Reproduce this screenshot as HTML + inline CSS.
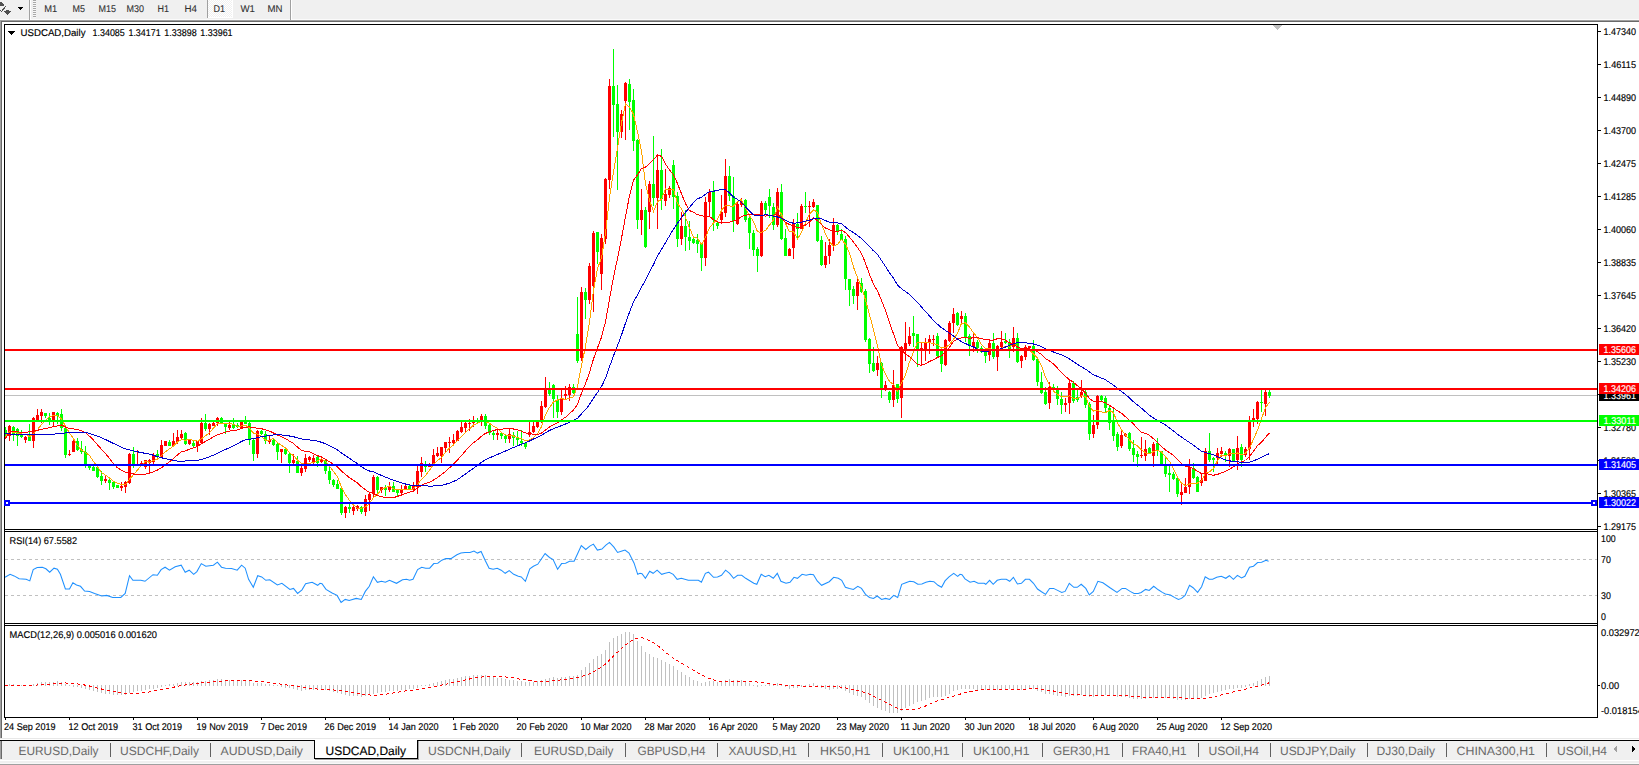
<!DOCTYPE html>
<html><head><meta charset="utf-8"><title>USDCAD,Daily</title>
<style>
html,body{margin:0;padding:0;background:#fff;overflow:hidden}
svg{display:block;font-family:"Liberation Sans",sans-serif}
</style></head><body>
<svg width="1639" height="765" viewBox="0 0 1639 765" shape-rendering="crispEdges" text-rendering="geometricPrecision">
<rect x="0" y="0" width="1639" height="765" fill="#fff"/>
<rect x="0" y="0" width="1639" height="19" fill="#f0f0f0"/>
<rect x="0" y="19" width="1639" height="1" fill="#fbfbfb"/>
<rect x="0" y="20" width="1639" height="1" fill="#a0a0a0"/>
<rect x="0" y="21" width="1639" height="1" fill="#696969"/>
<rect x="0" y="20" width="1" height="718" fill="#a0a0a0"/>
<rect x="1" y="21" width="1" height="717" fill="#696969"/>
<g fill="#505050"><path d="M0 2 L1.5 2 L4 5 L4 6 L0 6.5Z"/><path d="M0 9.5 L1.3 10.8 L5.6 5.6 L6.2 6.6 L1.4 12.2 L0 11Z"/><path d="M6 10h3v1.4h2.2L7.5 15.2 L3.9 11.4H6z"/></g>
<path d="M17.8 6.8h5.6l-2.8 3z" fill="#000"/>
<rect x="29" y="0" width="1" height="20" fill="#a0a0a0"/>
<rect x="30" y="0" width="1" height="20" fill="#fff"/>
<rect x="33" y="0" width="3" height="1" fill="#a8a8a8"/>
<rect x="33" y="1" width="3" height="1" fill="#f8f8f8"/>
<rect x="33" y="2" width="3" height="1" fill="#a8a8a8"/>
<rect x="33" y="3" width="3" height="1" fill="#f8f8f8"/>
<rect x="33" y="4" width="3" height="1" fill="#a8a8a8"/>
<rect x="33" y="5" width="3" height="1" fill="#f8f8f8"/>
<rect x="33" y="6" width="3" height="1" fill="#a8a8a8"/>
<rect x="33" y="7" width="3" height="1" fill="#f8f8f8"/>
<rect x="33" y="8" width="3" height="1" fill="#a8a8a8"/>
<rect x="33" y="9" width="3" height="1" fill="#f8f8f8"/>
<rect x="33" y="10" width="3" height="1" fill="#a8a8a8"/>
<rect x="33" y="11" width="3" height="1" fill="#f8f8f8"/>
<rect x="33" y="12" width="3" height="1" fill="#a8a8a8"/>
<rect x="33" y="13" width="3" height="1" fill="#f8f8f8"/>
<rect x="33" y="14" width="3" height="1" fill="#a8a8a8"/>
<rect x="33" y="15" width="3" height="1" fill="#f8f8f8"/>
<rect x="33" y="16" width="3" height="1" fill="#a8a8a8"/>
<rect x="33" y="17" width="3" height="1" fill="#f8f8f8"/>
<defs><pattern id="chk" width="2" height="2" patternUnits="userSpaceOnUse"><rect width="2" height="2" fill="#f0f0f0"/><rect width="1" height="1" fill="#fff"/><rect x="1" y="1" width="1" height="1" fill="#fff"/></pattern></defs>
<rect x="208" y="0" width="24" height="17" fill="url(#chk)"/>
<rect x="207" y="0" width="1" height="18" fill="#a0a0a0"/>
<rect x="232" y="0" width="1" height="18" fill="#fff"/>
<rect x="208" y="17" width="25" height="1" fill="#fff"/>
<text x="44.3" y="12" font-size="9.8" fill="#303030" stroke="#303030" stroke-width="0.1" textLength="13.0" lengthAdjust="spacingAndGlyphs">M1</text>
<text x="72.5" y="12" font-size="9.8" fill="#303030" stroke="#303030" stroke-width="0.1" textLength="12.5" lengthAdjust="spacingAndGlyphs">M5</text>
<text x="98.5" y="12" font-size="9.8" fill="#303030" stroke="#303030" stroke-width="0.1" textLength="17.5" lengthAdjust="spacingAndGlyphs">M15</text>
<text x="126.5" y="12" font-size="9.8" fill="#303030" stroke="#303030" stroke-width="0.1" textLength="17.5" lengthAdjust="spacingAndGlyphs">M30</text>
<text x="157.5" y="12" font-size="9.8" fill="#303030" stroke="#303030" stroke-width="0.1" textLength="11.5" lengthAdjust="spacingAndGlyphs">H1</text>
<text x="184.5" y="12" font-size="9.8" fill="#303030" stroke="#303030" stroke-width="0.1" textLength="12.5" lengthAdjust="spacingAndGlyphs">H4</text>
<text x="213.5" y="12" font-size="9.8" fill="#303030" stroke="#303030" stroke-width="0.1" textLength="11.5" lengthAdjust="spacingAndGlyphs">D1</text>
<text x="240.5" y="12" font-size="9.8" fill="#303030" stroke="#303030" stroke-width="0.1" textLength="14.5" lengthAdjust="spacingAndGlyphs">W1</text>
<text x="267.5" y="12" font-size="9.8" fill="#303030" stroke="#303030" stroke-width="0.1" textLength="15.0" lengthAdjust="spacingAndGlyphs">MN</text>
<rect x="290" y="0" width="1" height="20" fill="#a0a0a0"/>
<rect x="291" y="0" width="1" height="20" fill="#fff"/>
<rect x="4" y="24" width="1594" height="1" fill="#000"/>
<rect x="4" y="24" width="1" height="694" fill="#000"/>
<rect x="1597" y="24" width="1" height="694" fill="#000"/>
<rect x="4" y="529" width="1594" height="1" fill="#000"/>
<rect x="4" y="531" width="1594" height="1" fill="#000"/>
<rect x="4" y="623" width="1594" height="1" fill="#000"/>
<rect x="4" y="625" width="1594" height="1" fill="#000"/>
<rect x="4" y="717" width="1594" height="1" fill="#000"/>
<path d="M1273 25h9.4l-4.7 5.2z" fill="#c0c0c0"/>
<defs><clipPath id="cm"><rect x="5" y="25" width="1592" height="504"/></clipPath></defs>
<g clip-path="url(#cm)">
<rect x="5" y="395" width="1592" height="1" fill="#c0c0c0"/>
<path d="M5 427h1v11h-1zM4 430h3v7h-3zM13 426h1v15h-1zM12 427h3v7h-3zM17 428h1v18h-1zM16 429h3v7h-3zM21 430h1v8h-1zM20 435h3v2h-3zM29 424h1v17h-1zM28 437h3v4h-3zM45 413h1v5h-1zM44 413h3v3h-3zM49 413h1v12h-1zM48 418h3v3h-3zM57 412h1v12h-1zM56 413h3v3h-3zM61 409h1v22h-1zM60 414h3v14h-3zM65 427h1v31h-1zM64 428h3v27h-3zM77 438h1v13h-1zM76 441h3v9h-3zM81 441h1v13h-1zM80 449h3v3h-3zM85 446h1v22h-1zM84 452h3v14h-3zM89 466h1v4h-1zM88 466h3v2h-3zM93 466h1v5h-1zM92 467h3v4h-3zM97 466h1v12h-1zM96 467h3v10h-3zM101 471h1v14h-1zM100 476h3v5h-3zM109 478h1v12h-1zM108 480h3v3h-3zM113 481h1v8h-1zM112 482h3v5h-3zM117 485h1v3h-1zM116 485h3v3h-3zM133 447h1v21h-1zM132 454h3v10h-3zM157 450h1v8h-1zM156 454h3v3h-3zM169 440h1v6h-1zM168 442h3v4h-3zM185 432h1v13h-1zM184 433h3v11h-3zM193 440h1v7h-1zM192 443h3v3h-3zM205 414h1v17h-1zM204 423h3v6h-3zM221 417h1v7h-1zM220 418h3v6h-3zM225 424h1v10h-1zM224 424h3v3h-3zM233 418h1v11h-1zM232 424h3v4h-3zM237 423h1v5h-1zM236 425h3v2h-3zM245 416h1v8h-1zM244 421h3v3h-3zM249 422h1v23h-1zM248 423h3v17h-3zM253 439h1v22h-1zM252 440h3v14h-3zM261 430h1v5h-1zM260 431h3v3h-3zM265 431h1v13h-1zM264 434h3v7h-3zM273 438h1v8h-1zM272 440h3v5h-3zM277 443h1v17h-1zM276 444h3v8h-3zM285 449h1v6h-1zM284 449h3v5h-3zM289 453h1v20h-1zM288 454h3v9h-3zM297 456h1v17h-1zM296 461h3v12h-3zM317 456h1v11h-1zM316 457h3v6h-3zM325 460h1v14h-1zM324 461h3v10h-3zM329 466h1v18h-1zM328 471h3v9h-3zM333 479h1v8h-1zM332 480h3v5h-3zM337 480h1v9h-1zM336 484h3v5h-3zM341 488h1v27h-1zM340 488h3v25h-3zM349 504h1v9h-1zM348 507h3v2h-3zM361 506h1v8h-1zM360 507h3v5h-3zM377 476h1v18h-1zM376 477h3v13h-3zM385 485h1v11h-1zM384 488h3v2h-3zM393 482h1v10h-1zM392 486h3v6h-3zM397 490h1v6h-1zM396 490h3v3h-3zM409 485h1v5h-1zM408 486h3v3h-3zM425 461h1v11h-1zM424 465h3v2h-3zM477 418h1v5h-1zM476 420h3v2h-3zM485 414h1v15h-1zM484 416h3v10h-3zM489 424h1v11h-1zM488 425h3v8h-3zM493 431h1v9h-1zM492 433h3v2h-3zM501 433h1v6h-1zM500 433h3v3h-3zM505 435h1v8h-1zM504 436h3v3h-3zM513 432h1v14h-1zM512 435h3v3h-3zM517 431h1v15h-1zM516 438h3v2h-3zM521 430h1v16h-1zM520 441h3v2h-3zM525 442h1v7h-1zM524 443h3v4h-3zM549 382h1v14h-1zM548 390h3v4h-3zM553 384h1v34h-1zM552 385h3v14h-3zM557 395h1v23h-1zM556 400h3v12h-3zM573 384h1v10h-1zM572 387h3v6h-3zM577 297h1v66h-1zM576 334h3v27h-3zM585 288h1v31h-1zM584 292h3v8h-3zM597 232h1v32h-1zM596 232h3v20h-3zM613 49h1v88h-1zM612 86h3v19h-3zM617 85h1v105h-1zM616 104h3v28h-3zM629 79h1v51h-1zM628 84h3v18h-3zM633 89h1v62h-1zM632 100h3v41h-3zM637 139h1v90h-1zM636 140h3v80h-3zM645 207h1v41h-1zM644 210h3v37h-3zM653 136h1v70h-1zM652 184h3v14h-3zM661 149h1v61h-1zM660 170h3v29h-3zM673 160h1v49h-1zM672 165h3v32h-3zM677 192h1v55h-1zM676 196h3v43h-3zM685 210h1v41h-1zM684 226h3v11h-3zM689 221h1v29h-1zM688 237h3v4h-3zM693 238h1v6h-1zM692 239h3v4h-3zM697 234h1v19h-1zM696 240h3v4h-3zM701 243h1v28h-1zM700 244h3v14h-3zM713 181h1v50h-1zM712 192h3v28h-3zM717 221h1v8h-1zM716 223h3v3h-3zM729 166h1v35h-1zM728 176h3v20h-3zM733 177h1v55h-1zM732 196h3v25h-3zM745 199h1v23h-1zM744 200h3v20h-3zM749 216h1v33h-1zM748 218h3v15h-3zM753 230h1v26h-1zM752 233h3v17h-3zM757 247h1v25h-1zM756 249h3v7h-3zM765 201h1v13h-1zM764 203h3v7h-3zM769 189h1v29h-1zM768 197h3v9h-3zM773 203h1v27h-1zM772 207h3v18h-3zM781 184h1v56h-1zM780 192h3v47h-3zM785 229h1v27h-1zM784 238h3v18h-3zM797 213h1v27h-1zM796 224h3v5h-3zM805 192h1v21h-1zM804 206h3v1h-3zM817 205h1v37h-1zM816 205h3v36h-3zM821 236h1v30h-1zM820 240h3v25h-3zM837 224h1v11h-1zM836 225h3v6h-3zM841 229h1v11h-1zM840 234h3v6h-3zM845 236h1v54h-1zM844 239h3v40h-3zM849 279h1v27h-1zM848 279h3v11h-3zM853 286h1v18h-1zM852 289h3v7h-3zM861 278h1v15h-1zM860 283h3v9h-3zM865 289h1v53h-1zM864 291h3v49h-3zM869 338h1v35h-1zM868 339h3v25h-3zM873 347h1v25h-1zM872 363h3v8h-3zM881 362h1v36h-1zM880 363h3v25h-3zM889 391h1v12h-1zM888 392h3v8h-3zM897 384h1v19h-1zM896 384h3v15h-3zM913 316h1v31h-1zM912 333h3v3h-3zM917 334h1v33h-1zM916 334h3v15h-3zM937 333h1v24h-1zM936 336h3v20h-3zM941 350h1v22h-1zM940 351h3v13h-3zM957 312h1v14h-1zM956 313h3v12h-3zM965 313h1v29h-1zM964 316h3v21h-3zM969 334h1v22h-1zM968 336h3v9h-3zM977 340h1v13h-1zM976 342h3v6h-3zM981 346h1v7h-1zM980 348h3v4h-3zM985 351h1v12h-1zM984 352h3v4h-3zM993 333h1v26h-1zM992 343h3v14h-3zM1005 333h1v11h-1zM1004 341h3v2h-3zM1009 339h1v19h-1zM1008 342h3v7h-3zM1017 333h1v30h-1zM1016 338h3v24h-3zM1033 340h1v21h-1zM1032 346h3v14h-3zM1037 357h1v29h-1zM1036 359h3v23h-3zM1041 372h1v22h-1zM1040 382h3v11h-3zM1045 387h1v18h-1zM1044 392h3v12h-3zM1053 384h1v6h-1zM1052 387h3v2h-3zM1057 386h1v19h-1zM1056 390h3v9h-3zM1061 392h1v22h-1zM1060 399h3v6h-3zM1073 381h1v22h-1zM1072 383h3v18h-3zM1077 390h1v12h-1zM1076 397h3v3h-3zM1085 390h1v18h-1zM1084 392h3v13h-3zM1089 402h1v38h-1zM1088 404h3v30h-3zM1101 395h1v6h-1zM1100 396h3v4h-3zM1105 396h1v16h-1zM1104 398h3v10h-3zM1109 406h1v24h-1zM1108 408h3v15h-3zM1113 409h1v32h-1zM1112 422h3v14h-3zM1117 432h1v19h-1zM1116 434h3v13h-3zM1129 432h1v19h-1zM1128 433h3v16h-3zM1133 440h1v22h-1zM1132 448h3v7h-3zM1137 451h1v16h-1zM1136 454h3v3h-3zM1149 447h1v7h-1zM1148 448h3v5h-3zM1157 438h1v18h-1zM1156 443h3v8h-3zM1161 451h1v15h-1zM1160 451h3v13h-3zM1165 458h1v19h-1zM1164 465h3v9h-3zM1169 465h1v27h-1zM1168 473h3v2h-3zM1173 472h1v8h-1zM1172 474h3v5h-3zM1177 478h1v19h-1zM1176 478h3v16h-3zM1193 463h1v16h-1zM1192 468h3v10h-3zM1197 476h1v16h-1zM1196 477h3v15h-3zM1209 433h1v29h-1zM1208 451h3v9h-3zM1213 457h1v15h-1zM1212 458h3v2h-3zM1225 451h1v11h-1zM1224 453h3v3h-3zM1233 449h1v12h-1zM1232 449h3v12h-3zM1241 444h1v23h-1zM1240 447h3v13h-3zM1261 390h1v22h-1zM1260 402h3v1h-3zM1269 390h1v8h-1zM1268 392h3v4h-3z" fill="#00ff00"/>
<path d="M9 425h1v16h-1zM8 426h3v10h-3zM25 436h1v7h-1zM24 437h3v3h-3zM33 417h1v31h-1zM32 418h3v23h-3zM37 409h1v11h-1zM36 415h3v5h-3zM41 409h1v14h-1zM40 412h3v4h-3zM53 412h1v14h-1zM52 412h3v8h-3zM69 450h1v6h-1zM68 454h3v1h-3zM73 440h1v12h-1zM72 441h3v11h-3zM105 475h1v8h-1zM104 479h3v2h-3zM121 482h1v9h-1zM120 486h3v2h-3zM125 481h1v12h-1zM124 482h3v5h-3zM129 453h1v31h-1zM128 454h3v29h-3zM137 450h1v15h-1zM136 464h3v1h-3zM141 461h1v5h-1zM140 463h3v2h-3zM145 460h1v9h-1zM144 460h3v7h-3zM149 459h1v14h-1zM148 460h3v3h-3zM153 453h1v13h-1zM152 455h3v7h-3zM161 440h1v18h-1zM160 445h3v12h-3zM165 441h1v5h-1zM164 441h3v5h-3zM173 433h1v13h-1zM172 441h3v5h-3zM177 430h1v14h-1zM176 437h3v5h-3zM181 430h1v10h-1zM180 434h3v4h-3zM189 439h1v6h-1zM188 440h3v4h-3zM197 441h1v11h-1zM196 441h3v5h-3zM201 418h1v25h-1zM200 423h3v20h-3zM209 423h1v12h-1zM208 424h3v5h-3zM213 422h1v4h-1zM212 423h3v3h-3zM217 417h1v9h-1zM216 418h3v5h-3zM229 422h1v8h-1zM228 425h3v3h-3zM241 421h1v8h-1zM240 422h3v6h-3zM257 430h1v28h-1zM256 431h3v23h-3zM269 436h1v8h-1zM268 440h3v2h-3zM281 449h1v14h-1zM280 449h3v3h-3zM293 454h1v10h-1zM292 460h3v3h-3zM301 466h1v10h-1zM300 468h3v5h-3zM305 454h1v18h-1zM304 458h3v11h-3zM309 456h1v6h-1zM308 457h3v3h-3zM313 455h1v9h-1zM312 458h3v4h-3zM321 458h1v5h-1zM320 459h3v3h-3zM345 506h1v12h-1zM344 507h3v6h-3zM353 504h1v11h-1zM352 507h3v4h-3zM357 505h1v6h-1zM356 506h3v3h-3zM365 495h1v21h-1zM364 499h3v13h-3zM369 493h1v18h-1zM368 494h3v6h-3zM373 475h1v22h-1zM372 477h3v17h-3zM381 487h1v6h-1zM380 487h3v3h-3zM389 482h1v10h-1zM388 486h3v4h-3zM401 485h1v10h-1zM400 489h3v4h-3zM405 485h1v5h-1zM404 486h3v3h-3zM413 482h1v10h-1zM412 486h3v3h-3zM417 466h1v28h-1zM416 471h3v16h-3zM421 457h1v20h-1zM420 463h3v9h-3zM429 463h1v4h-1zM428 464h3v3h-3zM433 449h1v16h-1zM432 455h3v9h-3zM437 447h1v10h-1zM436 453h3v3h-3zM441 447h1v16h-1zM440 447h3v9h-3zM445 442h1v10h-1zM444 442h3v6h-3zM449 437h1v16h-1zM448 442h3v1h-3zM453 434h1v12h-1zM452 440h3v3h-3zM457 430h1v11h-1zM456 431h3v10h-3zM461 422h1v11h-1zM460 427h3v5h-3zM465 422h1v10h-1zM464 423h3v5h-3zM469 419h1v12h-1zM468 423h3v1h-3zM473 416h1v11h-1zM472 421h3v2h-3zM481 414h1v12h-1zM480 416h3v5h-3zM497 428h1v12h-1zM496 433h3v2h-3zM509 428h1v15h-1zM508 434h3v5h-3zM529 422h1v15h-1zM528 432h3v3h-3zM533 422h1v11h-1zM532 426h3v6h-3zM537 421h1v7h-1zM536 422h3v5h-3zM541 401h1v22h-1zM540 406h3v16h-3zM545 377h1v31h-1zM544 389h3v18h-3zM561 390h1v25h-1zM560 398h3v14h-3zM565 386h1v14h-1zM564 394h3v2h-3zM569 384h1v17h-1zM568 387h3v8h-3zM581 287h1v74h-1zM580 292h3v66h-3zM589 263h1v41h-1zM588 266h3v34h-3zM593 231h1v81h-1zM592 233h3v53h-3zM601 234h1v56h-1zM600 238h3v36h-3zM605 178h1v66h-1zM604 179h3v60h-3zM609 79h1v110h-1zM608 86h3v94h-3zM621 110h1v28h-1zM620 114h3v18h-3zM625 82h1v58h-1zM624 83h3v18h-3zM641 189h1v46h-1zM640 210h3v10h-3zM649 181h1v48h-1zM648 184h3v28h-3zM657 156h1v73h-1zM656 170h3v28h-3zM665 169h1v37h-1zM664 194h3v7h-3zM669 186h1v12h-1zM668 188h3v7h-3zM681 212h1v33h-1zM680 226h3v13h-3zM705 197h1v69h-1zM704 202h3v56h-3zM709 189h1v28h-1zM708 192h3v10h-3zM721 195h1v29h-1zM720 212h3v8h-3zM725 159h1v58h-1zM724 176h3v37h-3zM737 201h1v24h-1zM736 204h3v20h-3zM741 198h1v9h-1zM740 201h3v4h-3zM761 201h1v56h-1zM760 203h3v53h-3zM777 188h1v39h-1zM776 192h3v33h-3zM789 248h1v8h-1zM788 249h3v7h-3zM793 219h1v40h-1zM792 223h3v25h-3zM801 204h1v25h-1zM800 206h3v23h-3zM809 201h1v26h-1zM808 206h3v1h-3zM813 199h1v9h-1zM812 202h3v5h-3zM825 242h1v26h-1zM824 256h3v9h-3zM829 239h1v25h-1zM828 245h3v11h-3zM833 218h1v33h-1zM832 225h3v20h-3zM857 279h1v31h-1zM856 282h3v14h-3zM877 356h1v20h-1zM876 363h3v7h-3zM885 381h1v10h-1zM884 385h3v3h-3zM893 370h1v37h-1zM892 385h3v15h-3zM901 346h1v72h-1zM900 347h3v51h-3zM905 322h1v39h-1zM904 343h3v8h-3zM909 327h1v19h-1zM908 336h3v8h-3zM921 343h1v23h-1zM920 348h3v3h-3zM925 338h1v23h-1zM924 342h3v9h-3zM929 335h1v19h-1zM928 339h3v4h-3zM933 335h1v11h-1zM932 339h3v1h-3zM945 339h1v27h-1zM944 340h3v25h-3zM949 321h1v21h-1zM948 323h3v18h-3zM953 308h1v25h-1zM952 314h3v9h-3zM961 311h1v12h-1zM960 316h3v3h-3zM973 334h1v18h-1zM972 342h3v5h-3zM989 339h1v22h-1zM988 343h3v12h-3zM997 345h1v26h-1zM996 346h3v11h-3zM1001 331h1v17h-1zM1000 342h3v5h-3zM1013 327h1v25h-1zM1012 338h3v9h-3zM1021 355h1v13h-1zM1020 356h3v5h-3zM1025 345h1v15h-1zM1024 347h3v10h-3zM1029 346h1v3h-1zM1028 346h3v2h-3zM1049 382h1v27h-1zM1048 387h3v16h-3zM1065 398h1v14h-1zM1064 403h3v2h-3zM1069 379h1v35h-1zM1068 383h3v20h-3zM1081 380h1v18h-1zM1080 392h3v4h-3zM1093 415h1v23h-1zM1092 425h3v9h-3zM1097 395h1v34h-1zM1096 396h3v29h-3zM1121 430h1v18h-1zM1120 435h3v11h-3zM1125 433h1v4h-1zM1124 434h3v2h-3zM1141 437h1v21h-1zM1140 455h3v1h-3zM1145 440h1v21h-1zM1144 449h3v7h-3zM1153 442h1v25h-1zM1152 444h3v12h-3zM1181 483h1v22h-1zM1180 492h3v3h-3zM1185 478h1v15h-1zM1184 487h3v6h-3zM1189 459h1v35h-1zM1188 467h3v20h-3zM1201 473h1v13h-1zM1200 480h3v3h-3zM1205 448h1v33h-1zM1204 451h3v30h-3zM1217 448h1v16h-1zM1216 453h3v5h-3zM1221 447h1v10h-1zM1220 451h3v3h-3zM1229 448h1v19h-1zM1228 449h3v7h-3zM1237 436h1v34h-1zM1236 448h3v12h-3zM1245 447h1v10h-1zM1244 449h3v6h-3zM1249 416h1v44h-1zM1248 422h3v27h-3zM1253 409h1v18h-1zM1252 418h3v4h-3zM1257 401h1v23h-1zM1256 402h3v17h-3zM1265 389h1v27h-1zM1264 392h3v12h-3z" fill="#ff0000"/>
</g>
<g clip-path="url(#cm)" shape-rendering="crispEdges">
<polyline points="5.5,436.6 9.5,431.5 13.5,432.3 17.5,433.1 21.5,434.0 25.5,434.0 29.5,436.8 33.5,433.7 37.5,429.5 41.5,424.5 45.5,420.4 49.5,416.6 53.5,415.5 57.5,415.6 61.5,418.8 65.5,426.5 69.5,433.0 73.5,438.6 77.5,445.5 81.5,450.2 85.5,452.5 89.5,455.5 93.5,461.5 97.5,466.8 101.5,472.6 105.5,475.1 109.5,478.0 113.5,481.2 117.5,483.3 121.5,484.4 125.5,485.0 129.5,479.2 133.5,474.7 137.5,470.0 141.5,465.4 145.5,461.1 149.5,462.3 153.5,460.5 157.5,459.1 161.5,455.6 165.5,451.7 169.5,448.9 173.5,445.9 177.5,441.9 181.5,439.7 185.5,440.3 189.5,439.2 193.5,440.3 197.5,441.1 201.5,438.9 205.5,435.8 209.5,432.7 213.5,428.1 217.5,423.4 221.5,423.5 225.5,423.2 229.5,423.4 233.5,424.4 237.5,426.3 241.5,426.0 245.5,425.3 249.5,428.1 253.5,433.3 257.5,434.1 261.5,436.6 265.5,440.1 269.5,440.1 273.5,438.3 277.5,442.4 281.5,445.4 285.5,447.9 289.5,452.6 293.5,455.7 297.5,459.9 301.5,463.6 305.5,464.4 309.5,463.2 313.5,462.7 317.5,460.7 321.5,458.9 325.5,461.5 329.5,466.1 333.5,471.6 337.5,476.8 341.5,487.6 345.5,494.6 349.5,500.5 353.5,504.9 357.5,508.4 361.5,508.3 365.5,506.7 369.5,503.6 373.5,497.5 377.5,494.3 381.5,489.4 385.5,487.6 389.5,486.0 393.5,489.0 397.5,489.5 401.5,489.9 405.5,489.2 409.5,489.8 413.5,488.8 417.5,484.5 421.5,479.3 425.5,475.4 429.5,470.4 433.5,464.1 437.5,460.6 441.5,457.4 445.5,452.4 449.5,448.0 453.5,444.9 457.5,440.4 461.5,436.5 465.5,432.6 469.5,428.8 473.5,425.0 477.5,423.2 481.5,420.9 485.5,421.5 489.5,423.4 493.5,426.2 497.5,428.4 501.5,432.5 505.5,435.0 509.5,435.3 513.5,436.0 517.5,437.4 521.5,438.9 525.5,440.5 529.5,439.9 533.5,437.5 537.5,433.9 541.5,426.5 545.5,414.9 549.5,407.4 553.5,402.0 557.5,400.0 561.5,398.5 565.5,399.5 569.5,398.1 573.5,396.9 577.5,386.5 581.5,365.4 585.5,346.5 589.5,322.3 593.5,290.3 597.5,268.5 601.5,257.7 605.5,233.4 609.5,197.4 613.5,171.8 617.5,147.8 621.5,123.0 625.5,103.9 629.5,107.1 633.5,114.3 637.5,131.9 641.5,151.1 645.5,183.9 649.5,200.2 653.5,211.6 657.5,201.6 661.5,199.4 665.5,188.9 669.5,189.7 673.5,189.6 677.5,203.4 681.5,208.8 685.5,217.3 689.5,227.9 693.5,237.1 697.5,238.1 701.5,244.4 705.5,237.4 709.5,227.6 713.5,223.0 717.5,219.5 721.5,210.3 725.5,205.2 729.5,206.0 733.5,206.1 737.5,201.7 741.5,199.5 745.5,208.3 749.5,215.7 753.5,221.5 757.5,231.8 761.5,232.3 765.5,230.4 769.5,225.0 773.5,220.0 777.5,207.3 781.5,214.4 785.5,223.4 789.5,231.9 793.5,231.7 797.5,239.0 801.5,232.3 805.5,222.7 809.5,214.2 813.5,209.8 817.5,212.3 821.5,224.1 825.5,233.8 829.5,241.6 833.5,246.4 837.5,244.4 841.5,239.4 845.5,244.1 849.5,253.0 853.5,267.1 857.5,277.4 861.5,287.8 865.5,299.9 869.5,314.7 873.5,329.8 877.5,345.9 881.5,365.2 885.5,374.2 889.5,381.5 893.5,384.3 897.5,391.4 901.5,383.2 905.5,374.7 909.5,361.9 913.5,352.1 917.5,342.1 921.5,342.3 925.5,342.2 929.5,342.8 933.5,343.3 937.5,344.8 941.5,348.1 945.5,347.6 949.5,344.4 953.5,339.4 957.5,333.2 961.5,323.4 965.5,322.8 969.5,327.1 973.5,332.9 977.5,337.5 981.5,344.7 985.5,348.5 989.5,348.2 993.5,351.0 997.5,350.6 1001.5,348.6 1005.5,346.1 1009.5,347.2 1013.5,343.5 1017.5,346.7 1021.5,349.5 1025.5,350.3 1029.5,349.7 1033.5,354.1 1037.5,358.2 1041.5,365.7 1045.5,377.0 1049.5,385.1 1053.5,391.0 1057.5,394.4 1061.5,396.8 1065.5,396.7 1069.5,395.9 1073.5,398.3 1077.5,398.5 1081.5,395.9 1085.5,396.2 1089.5,406.4 1093.5,411.1 1097.5,410.3 1101.5,411.9 1105.5,412.6 1109.5,410.4 1113.5,412.6 1117.5,422.8 1121.5,429.8 1125.5,434.8 1129.5,439.9 1133.5,443.8 1137.5,445.8 1141.5,449.8 1145.5,452.9 1149.5,453.7 1153.5,451.5 1157.5,450.2 1161.5,451.9 1165.5,456.9 1169.5,461.4 1173.5,468.6 1177.5,477.4 1181.5,483.1 1185.5,485.6 1189.5,484.0 1193.5,483.7 1197.5,483.1 1201.5,480.7 1205.5,473.4 1209.5,471.9 1213.5,468.4 1217.5,460.7 1221.5,454.8 1225.5,456.0 1229.5,453.9 1233.5,454.0 1237.5,453.0 1241.5,454.8 1245.5,453.3 1249.5,447.9 1253.5,439.3 1257.5,430.1 1261.5,418.8 1265.5,407.4 1269.5,402.2" fill="none" stroke="#ffa500" stroke-width="1"/>
<polyline points="5.1,438.8 10.2,431.5 25.5,432.4 34.0,431.0 51.0,427.3 61.5,425.0 65.5,427.0 69.5,428.4 73.5,428.8 77.5,429.7 81.5,430.8 85.5,432.6 89.5,436.2 93.5,440.2 97.5,444.8 101.5,449.4 105.5,453.5 109.5,458.5 113.5,463.6 117.5,467.9 121.5,470.1 125.5,472.1 129.5,473.0 133.5,474.0 137.5,474.9 141.5,474.7 145.5,474.1 149.5,473.3 153.5,471.8 157.5,470.1 161.5,467.7 165.5,464.7 169.5,461.8 173.5,458.4 177.5,454.9 181.5,451.5 185.5,450.9 189.5,449.1 193.5,447.8 197.5,446.3 201.5,443.6 205.5,441.4 209.5,439.2 213.5,436.7 217.5,434.8 221.5,433.5 225.5,432.2 229.5,431.1 233.5,430.5 237.5,430.0 241.5,428.4 245.5,427.3 249.5,426.8 253.5,427.7 257.5,428.3 261.5,428.7 265.5,429.9 269.5,431.1 273.5,433.0 277.5,435.0 281.5,436.6 285.5,438.7 289.5,441.1 293.5,443.5 297.5,447.1 301.5,450.3 305.5,451.6 309.5,451.8 313.5,453.7 317.5,455.7 321.5,457.0 325.5,459.3 329.5,461.8 333.5,464.1 337.5,467.0 341.5,471.1 345.5,474.3 349.5,477.8 353.5,480.2 357.5,483.0 361.5,486.8 365.5,489.8 369.5,492.4 373.5,493.4 377.5,495.6 381.5,496.7 385.5,497.5 389.5,497.5 393.5,497.7 397.5,496.3 401.5,495.1 405.5,493.4 409.5,492.2 413.5,490.7 417.5,487.8 421.5,485.3 425.5,483.4 429.5,482.5 433.5,480.0 437.5,477.5 441.5,474.5 445.5,471.4 449.5,467.8 453.5,464.0 457.5,459.9 461.5,455.7 465.5,450.9 469.5,446.4 473.5,442.8 477.5,439.8 481.5,436.2 485.5,433.4 489.5,431.9 493.5,430.5 497.5,429.5 501.5,429.1 505.5,428.8 509.5,428.4 513.5,429.0 517.5,429.9 521.5,431.3 525.5,433.0 529.5,433.8 533.5,434.1 537.5,434.5 541.5,433.1 545.5,429.9 549.5,427.0 553.5,424.6 557.5,422.9 561.5,420.0 565.5,417.2 569.5,413.5 573.5,410.1 577.5,404.3 581.5,393.2 585.5,383.8 589.5,372.4 593.5,358.9 597.5,347.8 601.5,337.1 605.5,321.7 609.5,299.3 613.5,277.3 617.5,258.3 621.5,238.3 625.5,216.6 629.5,195.8 633.5,180.1 637.5,174.9 641.5,168.5 645.5,167.1 649.5,163.6 653.5,159.8 657.5,154.9 661.5,156.4 665.5,164.1 669.5,170.0 673.5,174.7 677.5,183.6 681.5,193.8 685.5,203.5 689.5,210.6 693.5,212.3 697.5,214.7 701.5,215.5 705.5,216.7 709.5,216.3 713.5,219.9 717.5,221.8 721.5,223.1 725.5,222.3 729.5,222.2 733.5,220.9 737.5,219.3 741.5,216.7 745.5,215.2 749.5,214.5 753.5,215.0 757.5,214.8 761.5,214.9 765.5,216.2 769.5,215.3 773.5,215.2 777.5,213.8 781.5,218.2 785.5,222.5 789.5,224.5 793.5,225.9 797.5,227.8 801.5,226.8 805.5,225.0 809.5,221.8 813.5,218.0 817.5,220.7 821.5,224.6 825.5,228.1 829.5,229.6 833.5,231.9 837.5,231.4 841.5,230.3 845.5,232.5 849.5,237.2 853.5,242.0 857.5,247.5 861.5,253.5 865.5,263.1 869.5,274.7 873.5,284.0 877.5,291.0 881.5,300.4 885.5,310.4 889.5,322.9 893.5,333.9 897.5,345.3 901.5,350.1 905.5,353.9 909.5,356.8 913.5,360.6 917.5,364.7 921.5,365.2 925.5,363.7 929.5,361.4 933.5,359.7 937.5,357.4 941.5,355.9 945.5,351.6 949.5,347.2 953.5,341.1 957.5,339.5 961.5,337.6 965.5,337.6 969.5,338.2 973.5,337.8 977.5,337.8 981.5,338.5 985.5,339.7 989.5,340.0 993.5,340.0 997.5,338.7 1001.5,338.8 1005.5,340.3 1009.5,342.8 1013.5,343.7 1017.5,347.0 1021.5,348.4 1025.5,348.5 1029.5,348.8 1033.5,349.7 1037.5,351.8 1041.5,354.5 1045.5,358.8 1049.5,361.0 1053.5,364.1 1057.5,368.2 1061.5,372.6 1065.5,376.5 1069.5,379.7 1073.5,382.5 1077.5,385.7 1081.5,388.9 1085.5,393.1 1089.5,398.4 1093.5,401.4 1097.5,401.6 1101.5,401.4 1105.5,402.9 1109.5,405.4 1113.5,407.9 1117.5,410.9 1121.5,413.2 1125.5,416.8 1129.5,420.2 1133.5,424.1 1137.5,428.7 1141.5,432.3 1145.5,433.4 1149.5,435.4 1153.5,438.8 1157.5,442.4 1161.5,446.4 1165.5,450.0 1169.5,452.8 1173.5,455.2 1177.5,459.4 1181.5,463.6 1185.5,466.3 1189.5,467.2 1193.5,468.7 1197.5,471.3 1201.5,473.5 1205.5,473.4 1209.5,474.5 1213.5,475.2 1217.5,474.4 1221.5,472.8 1225.5,471.4 1229.5,469.2 1233.5,466.8 1237.5,463.7 1241.5,461.8 1245.5,460.5 1249.5,456.4 1253.5,451.2 1257.5,445.6 1261.5,442.3 1265.5,437.4 1269.5,432.8" fill="none" stroke="#ff0000" stroke-width="1"/>
<polyline points="5.1,433.7 17.0,434.4 34.0,434.9 54.4,434.1 68.0,432.7 86.6,432.4 101.9,437.8 122.3,447.7 125.5,448.9 129.5,449.8 133.5,450.9 137.5,451.8 141.5,452.6 145.5,453.4 149.5,454.1 153.5,455.3 157.5,456.7 161.5,457.8 165.5,458.7 169.5,459.5 173.5,460.4 177.5,461.1 181.5,461.3 185.5,461.0 189.5,460.5 193.5,460.7 197.5,460.4 201.5,459.4 205.5,458.2 209.5,456.7 213.5,455.1 217.5,453.2 221.5,451.2 225.5,449.5 229.5,447.6 233.5,445.7 237.5,443.6 241.5,441.5 245.5,439.6 249.5,439.1 253.5,438.8 257.5,437.7 261.5,436.7 265.5,436.1 269.5,435.4 273.5,435.0 277.5,434.9 281.5,435.0 285.5,435.4 289.5,436.0 293.5,436.7 297.5,437.9 301.5,439.0 305.5,439.5 309.5,440.0 313.5,440.4 317.5,441.1 321.5,442.3 325.5,443.7 329.5,445.6 333.5,447.7 337.5,450.0 341.5,453.0 345.5,455.6 349.5,458.4 353.5,461.1 357.5,463.7 361.5,466.7 365.5,469.2 369.5,471.0 373.5,471.8 377.5,473.7 381.5,475.5 385.5,477.1 389.5,478.7 393.5,480.2 397.5,481.6 401.5,482.9 405.5,484.0 409.5,484.9 413.5,485.7 417.5,485.7 421.5,485.5 425.5,485.8 429.5,486.1 433.5,486.0 437.5,485.7 441.5,485.3 445.5,484.3 449.5,483.1 453.5,481.5 457.5,479.6 461.5,476.8 465.5,474.0 469.5,471.1 473.5,468.2 477.5,465.4 481.5,462.2 485.5,459.8 489.5,457.7 493.5,456.3 497.5,454.4 501.5,452.7 505.5,451.0 509.5,449.3 513.5,447.5 517.5,445.8 521.5,444.2 525.5,442.9 529.5,441.0 533.5,439.0 537.5,437.3 541.5,435.4 545.5,432.8 549.5,430.5 553.5,428.6 557.5,427.2 561.5,425.6 565.5,424.0 569.5,422.2 573.5,420.6 577.5,418.3 581.5,413.8 585.5,409.7 589.5,404.4 593.5,398.2 597.5,392.5 601.5,386.6 605.5,378.3 609.5,366.8 613.5,355.8 617.5,345.7 621.5,335.0 625.5,323.1 629.5,312.1 633.5,302.1 637.5,294.8 641.5,287.0 645.5,280.4 649.5,272.1 653.5,264.5 657.5,256.1 661.5,249.2 665.5,242.7 669.5,235.8 673.5,229.1 677.5,223.3 681.5,217.6 685.5,212.3 689.5,207.5 693.5,202.5 697.5,198.6 701.5,197.4 705.5,194.1 709.5,191.7 713.5,191.2 717.5,190.4 721.5,189.5 725.5,189.4 729.5,193.1 733.5,197.0 737.5,199.4 741.5,202.3 745.5,206.8 749.5,211.2 753.5,214.8 757.5,216.0 761.5,215.8 765.5,214.6 769.5,215.3 773.5,216.2 777.5,217.0 781.5,218.3 785.5,220.3 789.5,222.4 793.5,223.2 797.5,222.9 801.5,222.2 805.5,221.2 809.5,220.1 813.5,218.7 817.5,218.6 821.5,218.8 825.5,220.6 829.5,222.4 833.5,222.6 837.5,222.8 841.5,223.7 845.5,227.1 849.5,230.2 853.5,232.7 857.5,235.4 861.5,238.4 865.5,242.4 869.5,246.7 873.5,250.8 877.5,254.4 881.5,260.5 885.5,266.4 889.5,272.8 893.5,278.2 897.5,285.1 901.5,288.7 905.5,291.6 909.5,294.5 913.5,298.3 917.5,302.3 921.5,307.0 925.5,311.5 929.5,315.9 933.5,320.5 937.5,324.3 941.5,327.7 945.5,330.5 949.5,333.1 953.5,336.0 957.5,339.1 961.5,341.7 965.5,343.6 969.5,345.4 973.5,347.0 977.5,349.1 981.5,351.1 985.5,351.7 989.5,351.0 993.5,350.5 997.5,349.9 1001.5,348.4 1005.5,347.0 1009.5,345.3 1013.5,343.7 1017.5,342.5 1021.5,342.8 1025.5,342.9 1029.5,343.2 1033.5,344.0 1037.5,345.2 1041.5,346.7 1045.5,348.7 1049.5,350.3 1053.5,352.0 1057.5,353.4 1061.5,354.8 1065.5,356.9 1069.5,358.9 1073.5,361.8 1077.5,364.3 1081.5,366.8 1085.5,369.1 1089.5,372.1 1093.5,374.8 1097.5,376.4 1101.5,378.1 1105.5,379.8 1109.5,382.5 1113.5,385.1 1117.5,388.5 1121.5,391.6 1125.5,394.6 1129.5,397.9 1133.5,401.8 1137.5,405.0 1141.5,408.3 1145.5,411.7 1149.5,415.3 1153.5,418.1 1157.5,420.3 1161.5,422.7 1165.5,425.0 1169.5,428.0 1173.5,431.0 1177.5,434.2 1181.5,437.1 1185.5,439.8 1189.5,442.6 1193.5,445.2 1197.5,448.3 1201.5,451.2 1205.5,452.7 1209.5,453.6 1213.5,454.7 1217.5,456.7 1221.5,458.3 1225.5,459.9 1229.5,460.8 1233.5,461.6 1237.5,461.7 1241.5,462.5 1245.5,463.0 1249.5,462.1 1253.5,460.9 1257.5,459.1 1261.5,457.3 1265.5,455.4 1269.5,453.5" fill="none" stroke="#0000cd" stroke-width="1"/>
</g>
<rect x="5" y="349" width="1592" height="2" fill="#ff0000"/>
<rect x="5" y="388" width="1592" height="2" fill="#ff0000"/>
<rect x="5" y="420" width="1592" height="2" fill="#00ff00"/>
<rect x="5" y="464" width="1592" height="2" fill="#0000ff"/>
<rect x="5" y="502" width="1592" height="2" fill="#0000ff"/>
<rect x="4" y="500" width="6" height="6" fill="#0000ff"/>
<rect x="6" y="502" width="2" height="2" fill="#fff"/>
<rect x="1591" y="500" width="6" height="6" fill="#0000ff"/>
<rect x="1593" y="502" width="2" height="2" fill="#fff"/>
<rect x="1598" y="31" width="3" height="1" fill="#000"/>
<text x="1603.5" y="35.0" font-size="9.8" fill="#000" stroke="#000" stroke-width="0.15" textLength="32.5" lengthAdjust="spacingAndGlyphs">1.47340</text>
<rect x="1598" y="64" width="3" height="1" fill="#000"/>
<text x="1603.5" y="68.0" font-size="9.8" fill="#000" stroke="#000" stroke-width="0.15" textLength="32.5" lengthAdjust="spacingAndGlyphs">1.46115</text>
<rect x="1598" y="97" width="3" height="1" fill="#000"/>
<text x="1603.5" y="101.0" font-size="9.8" fill="#000" stroke="#000" stroke-width="0.15" textLength="32.5" lengthAdjust="spacingAndGlyphs">1.44890</text>
<rect x="1598" y="130" width="3" height="1" fill="#000"/>
<text x="1603.5" y="134.0" font-size="9.8" fill="#000" stroke="#000" stroke-width="0.15" textLength="32.5" lengthAdjust="spacingAndGlyphs">1.43700</text>
<rect x="1598" y="163" width="3" height="1" fill="#000"/>
<text x="1603.5" y="167.0" font-size="9.8" fill="#000" stroke="#000" stroke-width="0.15" textLength="32.5" lengthAdjust="spacingAndGlyphs">1.42475</text>
<rect x="1598" y="196" width="3" height="1" fill="#000"/>
<text x="1603.5" y="200.0" font-size="9.8" fill="#000" stroke="#000" stroke-width="0.15" textLength="32.5" lengthAdjust="spacingAndGlyphs">1.41285</text>
<rect x="1598" y="229" width="3" height="1" fill="#000"/>
<text x="1603.5" y="233.0" font-size="9.8" fill="#000" stroke="#000" stroke-width="0.15" textLength="32.5" lengthAdjust="spacingAndGlyphs">1.40060</text>
<rect x="1598" y="262" width="3" height="1" fill="#000"/>
<text x="1603.5" y="266.0" font-size="9.8" fill="#000" stroke="#000" stroke-width="0.15" textLength="32.5" lengthAdjust="spacingAndGlyphs">1.38835</text>
<rect x="1598" y="295" width="3" height="1" fill="#000"/>
<text x="1603.5" y="299.0" font-size="9.8" fill="#000" stroke="#000" stroke-width="0.15" textLength="32.5" lengthAdjust="spacingAndGlyphs">1.37645</text>
<rect x="1598" y="328" width="3" height="1" fill="#000"/>
<text x="1603.5" y="332.0" font-size="9.8" fill="#000" stroke="#000" stroke-width="0.15" textLength="32.5" lengthAdjust="spacingAndGlyphs">1.36420</text>
<rect x="1598" y="361" width="3" height="1" fill="#000"/>
<text x="1603.5" y="365.0" font-size="9.8" fill="#000" stroke="#000" stroke-width="0.15" textLength="32.5" lengthAdjust="spacingAndGlyphs">1.35230</text>
<rect x="1598" y="394" width="3" height="1" fill="#000"/>
<text x="1603.5" y="398.0" font-size="9.8" fill="#000" stroke="#000" stroke-width="0.15" textLength="32.5" lengthAdjust="spacingAndGlyphs">1.34005</text>
<rect x="1598" y="427" width="3" height="1" fill="#000"/>
<text x="1603.5" y="431.0" font-size="9.8" fill="#000" stroke="#000" stroke-width="0.15" textLength="32.5" lengthAdjust="spacingAndGlyphs">1.32780</text>
<rect x="1598" y="460" width="3" height="1" fill="#000"/>
<text x="1603.5" y="464.0" font-size="9.8" fill="#000" stroke="#000" stroke-width="0.15" textLength="32.5" lengthAdjust="spacingAndGlyphs">1.31590</text>
<rect x="1598" y="493" width="3" height="1" fill="#000"/>
<text x="1603.5" y="497.0" font-size="9.8" fill="#000" stroke="#000" stroke-width="0.15" textLength="32.5" lengthAdjust="spacingAndGlyphs">1.30365</text>
<rect x="1598" y="526" width="3" height="1" fill="#000"/>
<text x="1603.5" y="530.0" font-size="9.8" fill="#000" stroke="#000" stroke-width="0.15" textLength="32.5" lengthAdjust="spacingAndGlyphs">1.29175</text>
<rect x="1599" y="390" width="40" height="11" fill="#000"/>
<text x="1603.5" y="399" font-size="9.8" fill="#fff" stroke="#fff" stroke-width="0.15" textLength="32.5" lengthAdjust="spacingAndGlyphs">1.33961</text>
<rect x="1599" y="344" width="40" height="11" fill="#ff0000"/>
<text x="1603.5" y="353" font-size="9.8" fill="#fff" stroke="#fff" stroke-width="0.15" textLength="32.5" lengthAdjust="spacingAndGlyphs">1.35606</text>
<rect x="1599" y="383" width="40" height="11" fill="#ff0000"/>
<text x="1603.5" y="392" font-size="9.8" fill="#fff" stroke="#fff" stroke-width="0.15" textLength="32.5" lengthAdjust="spacingAndGlyphs">1.34206</text>
<rect x="1599" y="415" width="40" height="11" fill="#00ff00"/>
<text x="1603.5" y="424" font-size="9.8" fill="#fff" stroke="#fff" stroke-width="0.15" textLength="32.5" lengthAdjust="spacingAndGlyphs">1.33011</text>
<rect x="1599" y="459" width="40" height="11" fill="#0000ff"/>
<text x="1603.5" y="468" font-size="9.8" fill="#fff" stroke="#fff" stroke-width="0.15" textLength="32.5" lengthAdjust="spacingAndGlyphs">1.31405</text>
<rect x="1599" y="497" width="40" height="11" fill="#0000ff"/>
<text x="1603.5" y="506" font-size="9.8" fill="#fff" stroke="#fff" stroke-width="0.15" textLength="32.5" lengthAdjust="spacingAndGlyphs">1.30022</text>
<path d="M8 31h7.4l-3.7 4z" fill="#000"/>
<text x="20.5" y="36" font-size="9.8" fill="#000" stroke="#000" stroke-width="0.15" textLength="65" lengthAdjust="spacingAndGlyphs">USDCAD,Daily</text>
<text x="92.5" y="36" font-size="9.8" fill="#000" stroke="#000" stroke-width="0.15" textLength="32.3" lengthAdjust="spacingAndGlyphs">1.34085</text>
<text x="128.43" y="36" font-size="9.8" fill="#000" stroke="#000" stroke-width="0.15" textLength="32.3" lengthAdjust="spacingAndGlyphs">1.34171</text>
<text x="164.36" y="36" font-size="9.8" fill="#000" stroke="#000" stroke-width="0.15" textLength="32.3" lengthAdjust="spacingAndGlyphs">1.33898</text>
<text x="200.29" y="36" font-size="9.8" fill="#000" stroke="#000" stroke-width="0.15" textLength="32.3" lengthAdjust="spacingAndGlyphs">1.33961</text>
<line x1="5" x2="1597" y1="559.5" y2="559.5" stroke="#c0c0c0" stroke-width="1" stroke-dasharray="3 3" shape-rendering="crispEdges"/>
<line x1="5" x2="1597" y1="595.5" y2="595.5" stroke="#c0c0c0" stroke-width="1" stroke-dasharray="3 3" shape-rendering="crispEdges"/>
<g shape-rendering="auto">
<polyline points="5.0,577.3 10.1,574.3 14.1,575.9 19.1,578.7 26.2,579.3 29.8,580.9 33.2,569.6 37.2,567.6 42.3,567.2 45.9,568.8 49.7,572.2 54.0,568.2 57.4,569.2 60.4,574.3 65.4,589.0 69.5,589.0 72.9,582.7 76.5,584.9 80.5,586.3 84.6,591.0 89.6,591.4 94.6,593.4 101.7,596.0 106.7,595.4 112.7,597.4 120.8,597.4 125.2,593.4 129.5,575.7 132.9,580.3 140.9,580.3 145.0,581.3 153.0,574.7 157.4,575.3 161.1,569.6 165.1,567.2 169.5,570.2 175.2,566.8 181.2,565.2 185.2,572.2 189.2,570.2 193.7,574.3 196.9,571.6 201.3,563.6 205.8,566.2 213.4,565.2 217.4,562.2 221.5,567.2 225.5,568.2 231.5,568.6 237.2,570.2 241.6,565.2 245.2,568.2 248.6,579.3 253.3,587.3 257.7,575.7 261.7,576.9 265.8,580.3 269.8,579.7 277.4,584.9 281.9,583.3 289.9,589.4 293.5,588.4 297.6,593.4 302.0,589.8 305.6,583.7 312.1,582.3 317.7,585.3 320.0,583.3 322.0,583.7 326.0,589.4 332.1,593.0 337.1,595.4 341.1,602.4 345.2,599.4 349.2,600.4 356.2,598.4 361.3,599.4 365.3,591.4 369.3,586.3 373.4,576.7 377.4,582.3 381.4,581.3 385.4,582.3 389.5,580.3 396.5,583.3 402.5,579.7 406.6,579.3 409.6,580.3 413.0,579.3 417.6,569.6 421.7,567.2 425.7,568.2 429.7,568.2 433.8,563.6 437.8,563.2 441.8,560.2 445.8,558.6 450.9,558.6 456.9,554.7 460.9,553.1 465.0,552.5 470.0,552.5 474.0,551.1 477.4,553.1 481.1,551.5 485.1,560.2 489.1,568.2 493.1,569.2 497.2,568.2 501.2,570.2 505.2,573.3 509.2,570.6 513.7,574.3 518.3,576.3 521.3,576.9 525.4,581.3 529.8,568.8 533.4,566.2 537.8,564.2 541.5,558.8 545.1,553.5 549.5,557.5 553.1,559.6 557.6,569.2 561.6,563.6 565.6,563.2 569.6,561.2 574.1,561.2 577.7,553.5 581.3,545.5 585.8,549.5 589.8,546.1 593.4,544.1 597.4,550.1 601.9,549.1 605.9,545.1 609.5,542.4 613.9,547.1 617.6,552.5 622.0,551.1 625.0,550.1 629.0,553.1 634.1,563.2 637.7,574.3 640.0,573.3 642.0,573.7 645.4,578.3 649.7,571.2 653.1,573.3 657.1,570.2 661.7,574.3 665.2,573.3 669.2,572.2 673.2,574.3 677.2,579.3 681.3,578.3 688.3,580.3 698.4,580.3 701.4,582.3 705.4,573.3 708.5,572.2 713.5,577.3 717.5,576.9 721.5,575.3 725.6,570.2 729.6,573.3 733.6,578.3 737.6,575.3 741.7,575.3 745.7,578.3 753.8,583.3 756.8,584.3 761.2,574.3 765.2,576.7 768.9,575.3 773.3,578.3 777.3,573.3 780.9,581.3 786.0,583.3 790.0,582.3 794.0,577.3 797.4,578.3 802.1,574.3 806.1,575.3 810.1,574.3 813.5,574.7 817.2,580.9 821.6,585.3 829.2,581.7 833.7,577.3 838.3,578.3 841.7,580.3 845.4,587.3 849.4,588.4 853.4,589.4 857.8,586.3 861.5,588.4 865.5,594.4 869.5,597.4 873.5,598.4 877.2,596.0 881.6,599.4 885.6,598.4 889.6,599.4 893.7,595.4 897.7,597.4 901.7,584.3 905.8,582.7 909.8,581.3 913.8,581.7 917.8,584.3 921.9,583.9 925.9,582.3 929.9,581.3 933.9,581.7 938.0,585.3 941.6,587.3 945.0,580.9 949.0,576.9 953.7,573.3 957.7,576.3 960.0,574.3 962.0,574.7 965.0,578.9 970.1,582.3 974.1,581.3 978.1,583.3 984.2,583.3 985.8,584.3 989.6,580.3 993.2,584.3 997.2,580.3 1001.3,579.3 1006.3,579.3 1009.7,581.3 1013.4,577.3 1017.4,583.9 1021.4,583.3 1025.4,579.3 1029.5,579.3 1033.5,583.3 1037.5,589.0 1041.5,591.8 1045.6,594.4 1049.6,588.4 1053.6,588.4 1057.6,590.4 1061.7,592.4 1065.1,591.4 1069.3,583.3 1073.8,587.3 1077.2,587.3 1081.2,584.3 1085.8,588.4 1089.3,595.0 1093.3,591.4 1097.9,581.3 1102.9,582.7 1110.0,587.7 1117.0,592.4 1122.1,588.4 1125.5,588.4 1130.1,591.4 1134.1,593.4 1138.2,593.4 1141.2,592.4 1145.6,589.4 1149.2,590.4 1153.7,586.3 1158.3,589.8 1162.3,592.4 1165.4,594.0 1170.4,595.0 1174.4,597.4 1178.4,599.4 1181.5,598.4 1185.1,595.4 1189.5,585.3 1193.1,587.7 1197.6,592.4 1201.6,586.7 1205.2,576.7 1209.2,579.3 1212.7,579.3 1216.7,577.3 1221.3,576.3 1225.8,578.3 1229.4,575.7 1233.4,579.3 1237.4,575.3 1241.5,577.9 1244.9,576.3 1249.5,567.2 1253.5,566.2 1257.6,562.6 1261.6,562.2 1266.0,560.2 1268.6,561.2" fill="none" stroke="#1e90ff" stroke-width="1.05"/>
</g>
<text x="9.5" y="544" font-size="9.8" fill="#000" stroke="#000" stroke-width="0.15" textLength="67.5" lengthAdjust="spacingAndGlyphs">RSI(14) 67.5582</text>
<text x="1601" y="542" font-size="9.8" fill="#000" stroke="#000" stroke-width="0.15" textLength="14.7" lengthAdjust="spacingAndGlyphs">100</text>
<text x="1601" y="563" font-size="9.8" fill="#000" stroke="#000" stroke-width="0.15" textLength="9.8" lengthAdjust="spacingAndGlyphs">70</text>
<text x="1601" y="599" font-size="9.8" fill="#000" stroke="#000" stroke-width="0.15" textLength="9.8" lengthAdjust="spacingAndGlyphs">30</text>
<text x="1601" y="620" font-size="9.8" fill="#000" stroke="#000" stroke-width="0.15" textLength="4.9" lengthAdjust="spacingAndGlyphs">0</text>
<defs><clipPath id="cd"><rect x="5" y="626" width="1592" height="91"/></clipPath></defs>
<g clip-path="url(#cd)">
<path d="M5 685h1v1h-1zM9 684h1v2h-1zM13 684h1v2h-1zM17 685h1v1h-1zM21 685h1v1h-1zM25 685h1v1h-1zM29 685h1v1h-1zM33 684h1v2h-1zM37 683h1v3h-1zM41 682h1v4h-1zM45 682h1v4h-1zM49 682h1v4h-1zM53 682h1v4h-1zM57 681h1v5h-1zM61 682h1v4h-1zM65 684h1v2h-1zM69 685h1v1h-1zM73 685h1v2h-1zM77 685h1v2h-1zM81 685h1v3h-1zM85 685h1v4h-1zM89 685h1v5h-1zM93 685h1v6h-1zM97 685h1v7h-1zM101 685h1v8h-1zM105 685h1v9h-1zM109 685h1v9h-1zM113 685h1v10h-1zM117 685h1v10h-1zM121 685h1v10h-1zM125 685h1v10h-1zM129 685h1v8h-1zM133 685h1v7h-1zM137 685h1v6h-1zM141 685h1v6h-1zM145 685h1v5h-1zM149 685h1v4h-1zM153 685h1v4h-1zM157 685h1v3h-1zM161 685h1v2h-1zM165 685h1v1h-1zM169 684h1v2h-1zM173 684h1v2h-1zM177 683h1v3h-1zM181 682h1v4h-1zM185 682h1v4h-1zM189 682h1v4h-1zM193 682h1v4h-1zM197 682h1v4h-1zM201 681h1v5h-1zM205 681h1v5h-1zM209 680h1v6h-1zM213 680h1v6h-1zM217 679h1v7h-1zM221 679h1v7h-1zM225 680h1v6h-1zM229 680h1v6h-1zM233 680h1v6h-1zM237 680h1v6h-1zM241 680h1v6h-1zM245 680h1v6h-1zM249 681h1v5h-1zM253 683h1v3h-1zM257 683h1v3h-1zM261 683h1v3h-1zM265 684h1v2h-1zM269 684h1v2h-1zM273 685h1v1h-1zM277 685h1v1h-1zM281 685h1v2h-1zM285 685h1v3h-1zM289 685h1v3h-1zM293 685h1v4h-1zM297 685h1v5h-1zM301 685h1v6h-1zM305 685h1v5h-1zM309 685h1v5h-1zM313 685h1v5h-1zM317 685h1v5h-1zM321 685h1v5h-1zM325 685h1v5h-1zM329 685h1v6h-1zM333 685h1v7h-1zM337 685h1v8h-1zM341 685h1v9h-1zM345 685h1v10h-1zM349 685h1v11h-1zM353 685h1v11h-1zM357 685h1v11h-1zM361 685h1v12h-1zM365 685h1v11h-1zM369 685h1v10h-1zM373 685h1v9h-1zM377 685h1v8h-1zM381 685h1v7h-1zM385 685h1v7h-1zM389 685h1v6h-1zM393 685h1v6h-1zM397 685h1v6h-1zM401 685h1v5h-1zM405 685h1v5h-1zM409 685h1v4h-1zM413 685h1v4h-1zM417 685h1v3h-1zM421 685h1v1h-1zM425 685h1v1h-1zM429 684h1v2h-1zM433 683h1v3h-1zM437 682h1v4h-1zM441 681h1v5h-1zM445 680h1v6h-1zM449 679h1v7h-1zM453 679h1v7h-1zM457 678h1v8h-1zM461 677h1v9h-1zM465 676h1v10h-1zM469 676h1v10h-1zM473 675h1v11h-1zM477 675h1v11h-1zM481 675h1v11h-1zM485 675h1v11h-1zM489 676h1v10h-1zM493 677h1v9h-1zM497 678h1v8h-1zM501 678h1v8h-1zM505 679h1v7h-1zM509 680h1v6h-1zM513 680h1v6h-1zM517 681h1v5h-1zM521 681h1v5h-1zM525 682h1v4h-1zM529 682h1v4h-1zM533 682h1v4h-1zM537 681h1v5h-1zM541 680h1v6h-1zM545 679h1v7h-1zM549 678h1v8h-1zM553 677h1v9h-1zM557 678h1v8h-1zM561 677h1v9h-1zM565 677h1v9h-1zM569 676h1v10h-1zM573 676h1v10h-1zM577 675h1v11h-1zM581 670h1v16h-1zM585 667h1v19h-1zM589 663h1v23h-1zM593 659h1v27h-1zM597 656h1v30h-1zM601 654h1v32h-1zM605 650h1v36h-1zM609 642h1v44h-1zM613 638h1v48h-1zM617 636h1v50h-1zM621 634h1v52h-1zM625 632h1v54h-1zM629 632h1v54h-1zM633 634h1v52h-1zM637 641h1v45h-1zM641 646h1v40h-1zM645 652h1v34h-1zM649 654h1v32h-1zM653 657h1v29h-1zM657 658h1v28h-1zM661 660h1v26h-1zM665 662h1v24h-1zM669 664h1v22h-1zM673 666h1v20h-1zM677 670h1v16h-1zM681 672h1v14h-1zM685 675h1v11h-1zM689 677h1v9h-1zM693 680h1v6h-1zM697 681h1v5h-1zM701 683h1v3h-1zM705 682h1v4h-1zM709 681h1v5h-1zM713 681h1v5h-1zM717 682h1v4h-1zM721 682h1v4h-1zM725 680h1v6h-1zM729 679h1v7h-1zM733 680h1v6h-1zM737 680h1v6h-1zM741 680h1v6h-1zM745 681h1v5h-1zM749 683h1v3h-1zM753 685h1v1h-1zM757 685h1v2h-1zM761 685h1v1h-1zM765 685h1v1h-1zM769 684h1v2h-1zM773 684h1v2h-1zM777 683h1v3h-1zM781 684h1v2h-1zM785 685h1v2h-1zM789 685h1v4h-1zM793 685h1v3h-1zM797 685h1v3h-1zM801 685h1v2h-1zM805 685h1v1h-1zM809 684h1v2h-1zM813 683h1v3h-1zM817 685h1v1h-1zM821 685h1v3h-1zM825 685h1v4h-1zM829 685h1v5h-1zM833 685h1v4h-1zM837 685h1v4h-1zM841 685h1v4h-1zM845 685h1v6h-1zM849 685h1v8h-1zM853 685h1v10h-1zM857 685h1v11h-1zM861 685h1v12h-1zM865 685h1v15h-1zM869 685h1v18h-1zM873 685h1v21h-1zM877 685h1v23h-1zM881 685h1v25h-1zM885 685h1v26h-1zM889 685h1v28h-1zM893 685h1v28h-1zM897 685h1v28h-1zM901 685h1v26h-1zM905 685h1v23h-1zM909 685h1v21h-1zM913 685h1v19h-1zM917 685h1v17h-1zM921 685h1v16h-1zM925 685h1v15h-1zM929 685h1v13h-1zM933 685h1v12h-1zM937 685h1v12h-1zM941 685h1v12h-1zM945 685h1v11h-1zM949 685h1v9h-1zM953 685h1v6h-1zM957 685h1v5h-1zM961 685h1v4h-1zM965 685h1v4h-1zM969 685h1v4h-1zM973 685h1v4h-1zM977 685h1v5h-1zM981 685h1v5h-1zM985 685h1v5h-1zM989 685h1v5h-1zM993 685h1v5h-1zM997 685h1v5h-1zM1001 685h1v5h-1zM1005 685h1v4h-1zM1009 685h1v4h-1zM1013 685h1v4h-1zM1017 685h1v4h-1zM1021 685h1v5h-1zM1025 685h1v4h-1zM1029 685h1v4h-1zM1033 685h1v4h-1zM1037 685h1v6h-1zM1041 685h1v7h-1zM1045 685h1v9h-1zM1049 685h1v9h-1zM1053 685h1v10h-1zM1057 685h1v11h-1zM1061 685h1v11h-1zM1065 685h1v12h-1zM1069 685h1v11h-1zM1073 685h1v11h-1zM1077 685h1v11h-1zM1081 685h1v10h-1zM1085 685h1v10h-1zM1089 685h1v12h-1zM1093 685h1v12h-1zM1097 685h1v11h-1zM1101 685h1v10h-1zM1105 685h1v10h-1zM1109 685h1v10h-1zM1113 685h1v11h-1zM1117 685h1v12h-1zM1121 685h1v12h-1zM1125 685h1v12h-1zM1129 685h1v13h-1zM1133 685h1v14h-1zM1137 685h1v14h-1zM1141 685h1v14h-1zM1145 685h1v14h-1zM1149 685h1v13h-1zM1153 685h1v13h-1zM1157 685h1v12h-1zM1161 685h1v12h-1zM1165 685h1v13h-1zM1169 685h1v13h-1zM1173 685h1v14h-1zM1177 685h1v15h-1zM1181 685h1v15h-1zM1185 685h1v15h-1zM1189 685h1v14h-1zM1193 685h1v13h-1zM1197 685h1v13h-1zM1201 685h1v13h-1zM1205 685h1v11h-1zM1209 685h1v9h-1zM1213 685h1v8h-1zM1217 685h1v7h-1zM1221 685h1v6h-1zM1225 685h1v5h-1zM1229 685h1v4h-1zM1233 685h1v4h-1zM1237 685h1v3h-1zM1241 685h1v3h-1zM1245 685h1v2h-1zM1249 684h1v2h-1zM1253 683h1v3h-1zM1257 681h1v5h-1zM1261 679h1v7h-1zM1265 677h1v9h-1zM1269 676h1v10h-1z" fill="#c0c0c0"/>
<polyline points="5.5,685.5 9.5,685.4 13.5,685.4 17.5,685.3 21.5,685.3 25.5,685.3 29.5,685.3 33.5,685.2 37.5,685.0 41.5,684.7 45.5,684.4 49.5,684.2 53.5,683.8 57.5,683.5 61.5,683.2 65.5,683.0 69.5,683.2 73.5,683.4 77.5,683.9 81.5,684.4 85.5,685.2 89.5,686.0 93.5,687.0 97.5,688.1 101.5,689.0 105.5,689.8 109.5,690.7 113.5,691.5 117.5,692.2 121.5,692.9 125.5,693.4 129.5,693.5 133.5,693.5 137.5,693.3 141.5,693.0 145.5,692.5 149.5,691.9 153.5,691.2 157.5,690.4 161.5,689.5 165.5,688.7 169.5,687.9 173.5,687.2 177.5,686.4 181.5,685.6 185.5,685.0 189.5,684.3 193.5,683.8 197.5,683.4 201.5,683.0 205.5,682.6 209.5,682.2 213.5,681.9 217.5,681.6 221.5,681.3 225.5,681.0 229.5,680.7 233.5,680.5 237.5,680.4 241.5,680.3 245.5,680.3 249.5,680.5 253.5,680.9 257.5,681.3 261.5,681.7 265.5,682.1 269.5,682.6 273.5,683.1 277.5,683.7 281.5,684.3 285.5,684.8 289.5,685.4 293.5,685.9 297.5,686.6 301.5,687.2 305.5,687.8 309.5,688.3 313.5,688.7 317.5,689.1 321.5,689.4 325.5,689.6 329.5,689.8 333.5,690.0 337.5,690.2 341.5,690.6 345.5,691.2 349.5,691.9 353.5,692.6 357.5,693.3 361.5,694.0 365.5,694.6 369.5,695.0 373.5,695.1 377.5,695.0 381.5,694.6 385.5,694.2 389.5,693.6 393.5,693.0 397.5,692.3 401.5,691.6 405.5,691.0 409.5,690.5 413.5,690.0 417.5,689.5 421.5,688.9 425.5,688.3 429.5,687.6 433.5,686.9 437.5,686.1 441.5,685.2 445.5,684.3 449.5,683.3 453.5,682.4 457.5,681.5 461.5,680.7 465.5,679.8 469.5,679.0 473.5,678.3 477.5,677.7 481.5,677.1 485.5,676.7 489.5,676.4 493.5,676.4 497.5,676.4 501.5,676.6 505.5,677.0 509.5,677.5 513.5,678.0 517.5,678.7 521.5,679.4 525.5,680.0 529.5,680.6 533.5,681.1 537.5,681.4 541.5,681.6 545.5,681.4 549.5,681.2 553.5,680.8 557.5,680.3 561.5,679.8 565.5,679.2 569.5,678.6 573.5,678.0 577.5,677.4 581.5,676.5 585.5,675.3 589.5,673.8 593.5,671.7 597.5,669.4 601.5,666.9 605.5,663.9 609.5,660.2 613.5,656.0 617.5,652.2 621.5,648.6 625.5,645.1 629.5,642.1 633.5,639.7 637.5,638.1 641.5,637.7 645.5,638.7 649.5,640.6 653.5,642.9 657.5,645.5 661.5,648.6 665.5,652.1 669.5,655.4 673.5,658.2 677.5,660.9 681.5,663.1 685.5,665.5 689.5,667.8 693.5,670.2 697.5,672.5 701.5,674.8 705.5,676.9 709.5,678.5 713.5,679.8 717.5,680.8 721.5,681.6 725.5,681.8 729.5,681.8 733.5,681.7 737.5,681.4 741.5,681.1 745.5,681.2 749.5,681.3 753.5,681.6 757.5,682.1 761.5,682.7 765.5,683.3 769.5,683.7 773.5,684.2 777.5,684.5 781.5,684.9 785.5,685.3 789.5,685.6 793.5,685.7 797.5,685.9 801.5,686.0 805.5,686.1 809.5,686.1 813.5,686.1 817.5,686.1 821.5,686.2 825.5,686.3 829.5,686.4 833.5,686.5 837.5,686.8 841.5,687.1 845.5,687.8 849.5,688.8 853.5,689.8 857.5,690.7 861.5,691.5 865.5,692.6 869.5,694.2 873.5,696.1 877.5,698.2 881.5,700.3 885.5,702.3 889.5,704.3 893.5,706.2 897.5,708.1 901.5,709.3 905.5,709.9 909.5,709.9 913.5,709.5 917.5,708.6 921.5,707.5 925.5,706.0 929.5,704.4 933.5,702.5 937.5,700.9 941.5,699.6 945.5,698.5 949.5,697.4 953.5,696.1 957.5,694.9 961.5,693.7 965.5,692.7 969.5,691.8 973.5,691.0 977.5,690.2 981.5,689.6 985.5,689.2 989.5,689.1 993.5,689.1 997.5,689.3 1001.5,689.4 1005.5,689.4 1009.5,689.4 1013.5,689.3 1017.5,689.2 1021.5,689.2 1025.5,689.1 1029.5,688.9 1033.5,688.8 1037.5,688.9 1041.5,689.3 1045.5,689.8 1049.5,690.4 1053.5,691.0 1057.5,691.7 1061.5,692.5 1065.5,693.3 1069.5,694.0 1073.5,694.6 1077.5,694.9 1081.5,695.1 1085.5,695.2 1089.5,695.4 1093.5,695.6 1097.5,695.6 1101.5,695.4 1105.5,695.3 1109.5,695.3 1113.5,695.3 1117.5,695.6 1121.5,695.8 1125.5,695.9 1129.5,695.9 1133.5,696.2 1137.5,696.6 1141.5,697.1 1145.5,697.5 1149.5,697.7 1153.5,697.7 1157.5,697.7 1161.5,697.7 1165.5,697.8 1169.5,697.7 1173.5,697.7 1177.5,697.8 1181.5,697.9 1185.5,698.1 1189.5,698.2 1193.5,698.3 1197.5,698.4 1201.5,698.4 1205.5,698.1 1209.5,697.6 1213.5,696.9 1217.5,695.9 1221.5,694.9 1225.5,693.9 1229.5,692.9 1233.5,691.8 1237.5,690.7 1241.5,689.9 1245.5,689.1 1249.5,688.2 1253.5,687.3 1257.5,686.3 1261.5,685.2 1265.5,684.0 1269.5,682.7" fill="none" stroke="#ff0000" stroke-width="1" stroke-dasharray="3 3"/>
</g>
<text x="9.5" y="638" font-size="9.8" fill="#000" stroke="#000" stroke-width="0.15" textLength="147.5" lengthAdjust="spacingAndGlyphs">MACD(12,26,9) 0.005016 0.001620</text>
<text x="1601" y="636" font-size="9.8" fill="#000" stroke="#000" stroke-width="0.15" textLength="38.8" lengthAdjust="spacingAndGlyphs">0.032972</text>
<text x="1601" y="689" font-size="9.8" fill="#000" stroke="#000" stroke-width="0.15" textLength="18.1" lengthAdjust="spacingAndGlyphs">0.00</text>
<text x="1601" y="714" font-size="9.8" fill="#000" stroke="#000" stroke-width="0.15" textLength="41.9" lengthAdjust="spacingAndGlyphs">-0.018154</text>
<rect x="1598" y="685" width="2" height="1" fill="#000"/>
<rect x="5" y="718" width="1" height="2" fill="#000"/>
<text x="4" y="730" font-size="9.8" fill="#000" stroke="#000" stroke-width="0.15" textLength="51.6" lengthAdjust="spacingAndGlyphs">24 Sep 2019</text>
<rect x="69" y="718" width="1" height="2" fill="#000"/>
<text x="68.5" y="730" font-size="9.8" fill="#000" stroke="#000" stroke-width="0.15" textLength="49.5" lengthAdjust="spacingAndGlyphs">12 Oct 2019</text>
<rect x="133" y="718" width="1" height="2" fill="#000"/>
<text x="132.5" y="730" font-size="9.8" fill="#000" stroke="#000" stroke-width="0.15" textLength="49.5" lengthAdjust="spacingAndGlyphs">31 Oct 2019</text>
<rect x="197" y="718" width="1" height="2" fill="#000"/>
<text x="196.5" y="730" font-size="9.8" fill="#000" stroke="#000" stroke-width="0.15" textLength="51.6" lengthAdjust="spacingAndGlyphs">19 Nov 2019</text>
<rect x="261" y="718" width="1" height="2" fill="#000"/>
<text x="260.5" y="730" font-size="9.8" fill="#000" stroke="#000" stroke-width="0.15" textLength="46.5" lengthAdjust="spacingAndGlyphs">7 Dec 2019</text>
<rect x="325" y="718" width="1" height="2" fill="#000"/>
<text x="324.5" y="730" font-size="9.8" fill="#000" stroke="#000" stroke-width="0.15" textLength="51.6" lengthAdjust="spacingAndGlyphs">26 Dec 2019</text>
<rect x="389" y="718" width="1" height="2" fill="#000"/>
<text x="388.5" y="730" font-size="9.8" fill="#000" stroke="#000" stroke-width="0.15" textLength="50.1" lengthAdjust="spacingAndGlyphs">14 Jan 2020</text>
<rect x="453" y="718" width="1" height="2" fill="#000"/>
<text x="452.5" y="730" font-size="9.8" fill="#000" stroke="#000" stroke-width="0.15" textLength="46.0" lengthAdjust="spacingAndGlyphs">1 Feb 2020</text>
<rect x="517" y="718" width="1" height="2" fill="#000"/>
<text x="516.5" y="730" font-size="9.8" fill="#000" stroke="#000" stroke-width="0.15" textLength="51.1" lengthAdjust="spacingAndGlyphs">20 Feb 2020</text>
<rect x="581" y="718" width="1" height="2" fill="#000"/>
<text x="580.5" y="730" font-size="9.8" fill="#000" stroke="#000" stroke-width="0.15" textLength="51.1" lengthAdjust="spacingAndGlyphs">10 Mar 2020</text>
<rect x="645" y="718" width="1" height="2" fill="#000"/>
<text x="644.5" y="730" font-size="9.8" fill="#000" stroke="#000" stroke-width="0.15" textLength="51.1" lengthAdjust="spacingAndGlyphs">28 Mar 2020</text>
<rect x="709" y="718" width="1" height="2" fill="#000"/>
<text x="708.5" y="730" font-size="9.8" fill="#000" stroke="#000" stroke-width="0.15" textLength="49.1" lengthAdjust="spacingAndGlyphs">16 Apr 2020</text>
<rect x="773" y="718" width="1" height="2" fill="#000"/>
<text x="772.5" y="730" font-size="9.8" fill="#000" stroke="#000" stroke-width="0.15" textLength="47.5" lengthAdjust="spacingAndGlyphs">5 May 2020</text>
<rect x="837" y="718" width="1" height="2" fill="#000"/>
<text x="836.5" y="730" font-size="9.8" fill="#000" stroke="#000" stroke-width="0.15" textLength="52.6" lengthAdjust="spacingAndGlyphs">23 May 2020</text>
<rect x="901" y="718" width="1" height="2" fill="#000"/>
<text x="900.5" y="730" font-size="9.8" fill="#000" stroke="#000" stroke-width="0.15" textLength="49.4" lengthAdjust="spacingAndGlyphs">11 Jun 2020</text>
<rect x="965" y="718" width="1" height="2" fill="#000"/>
<text x="964.5" y="730" font-size="9.8" fill="#000" stroke="#000" stroke-width="0.15" textLength="50.1" lengthAdjust="spacingAndGlyphs">30 Jun 2020</text>
<rect x="1029" y="718" width="1" height="2" fill="#000"/>
<text x="1028.5" y="730" font-size="9.8" fill="#000" stroke="#000" stroke-width="0.15" textLength="47.0" lengthAdjust="spacingAndGlyphs">18 Jul 2020</text>
<rect x="1093" y="718" width="1" height="2" fill="#000"/>
<text x="1092.5" y="730" font-size="9.8" fill="#000" stroke="#000" stroke-width="0.15" textLength="46.0" lengthAdjust="spacingAndGlyphs">6 Aug 2020</text>
<rect x="1157" y="718" width="1" height="2" fill="#000"/>
<text x="1156.5" y="730" font-size="9.8" fill="#000" stroke="#000" stroke-width="0.15" textLength="51.1" lengthAdjust="spacingAndGlyphs">25 Aug 2020</text>
<rect x="1221" y="718" width="1" height="2" fill="#000"/>
<text x="1220.5" y="730" font-size="9.8" fill="#000" stroke="#000" stroke-width="0.15" textLength="51.6" lengthAdjust="spacingAndGlyphs">12 Sep 2020</text>
<rect x="0" y="738" width="1639" height="1" fill="#e8e8e8"/>
<rect x="0" y="741" width="1639" height="19" fill="#f0f0f0"/>
<rect x="0" y="760" width="1639" height="1" fill="#fff"/>
<rect x="0" y="761" width="1639" height="2" fill="#f0f0f0"/>
<rect x="0" y="763" width="1639" height="1" fill="#f8f8f8"/>
<rect x="0" y="764" width="1639" height="1" fill="#a0a0a0"/>
<rect x="0" y="740" width="1639" height="1" fill="#000"/>
<rect x="0" y="741" width="1" height="18" fill="#a0a0a0"/>
<rect x="1" y="741" width="1" height="18" fill="#696969"/>
<rect x="314" y="739" width="104" height="20" fill="#fff"/>
<rect x="314" y="738" width="104" height="1" fill="#e8e8e8"/>
<rect x="314" y="740" width="1" height="19" fill="#000"/>
<rect x="417" y="740" width="1" height="19" fill="#000"/>
<rect x="314" y="758" width="104" height="1" fill="#000"/>
<rect x="418" y="741" width="1" height="19" fill="#a0a0a0"/>
<rect x="315" y="759" width="104" height="1" fill="#a0a0a0"/>
<text x="18.5" y="755" font-size="12.1" fill="#6a6a6a" textLength="80.0" lengthAdjust="spacingAndGlyphs">EURUSD,Daily</text>
<text x="120" y="755" font-size="12.1" fill="#6a6a6a" textLength="79" lengthAdjust="spacingAndGlyphs">USDCHF,Daily</text>
<text x="220.5" y="755" font-size="12.1" fill="#6a6a6a" textLength="82.5" lengthAdjust="spacingAndGlyphs">AUDUSD,Daily</text>
<text x="428" y="755" font-size="12.1" fill="#6a6a6a" textLength="82.5" lengthAdjust="spacingAndGlyphs">USDCNH,Daily</text>
<text x="534" y="755" font-size="12.1" fill="#6a6a6a" textLength="79.5" lengthAdjust="spacingAndGlyphs">EURUSD,Daily</text>
<text x="637.5" y="755" font-size="12.1" fill="#6a6a6a" textLength="68.0" lengthAdjust="spacingAndGlyphs">GBPUSD,H4</text>
<text x="728.5" y="755" font-size="12.1" fill="#6a6a6a" textLength="68.5" lengthAdjust="spacingAndGlyphs">XAUUSD,H1</text>
<text x="820" y="755" font-size="12.1" fill="#6a6a6a" textLength="50.5" lengthAdjust="spacingAndGlyphs">HK50,H1</text>
<text x="893" y="755" font-size="12.1" fill="#6a6a6a" textLength="56.5" lengthAdjust="spacingAndGlyphs">UK100,H1</text>
<text x="973" y="755" font-size="12.1" fill="#6a6a6a" textLength="56.5" lengthAdjust="spacingAndGlyphs">UK100,H1</text>
<text x="1053" y="755" font-size="12.1" fill="#6a6a6a" textLength="57" lengthAdjust="spacingAndGlyphs">GER30,H1</text>
<text x="1132" y="755" font-size="12.1" fill="#6a6a6a" textLength="54.5" lengthAdjust="spacingAndGlyphs">FRA40,H1</text>
<text x="1208.5" y="755" font-size="12.1" fill="#6a6a6a" textLength="50.5" lengthAdjust="spacingAndGlyphs">USOil,H4</text>
<text x="1280" y="755" font-size="12.1" fill="#6a6a6a" textLength="75.5" lengthAdjust="spacingAndGlyphs">USDJPY,Daily</text>
<text x="1376.5" y="755" font-size="12.1" fill="#6a6a6a" textLength="58.5" lengthAdjust="spacingAndGlyphs">DJ30,Daily</text>
<text x="1456.5" y="755" font-size="12.1" fill="#6a6a6a" textLength="78.5" lengthAdjust="spacingAndGlyphs">CHINA300,H1</text>
<text x="1557" y="755" font-size="12.1" fill="#6a6a6a" textLength="50" lengthAdjust="spacingAndGlyphs">USOil,H4</text>
<text x="325.5" y="754.5" font-size="12.1" fill="#000" stroke="#000" stroke-width="0.15" textLength="80.5" lengthAdjust="spacingAndGlyphs">USDCAD,Daily</text>
<rect x="110" y="743" width="1" height="14" fill="#606060"/>
<rect x="210" y="743" width="1" height="14" fill="#606060"/>
<rect x="521" y="743" width="1" height="14" fill="#606060"/>
<rect x="625" y="743" width="1" height="14" fill="#606060"/>
<rect x="717" y="743" width="1" height="14" fill="#606060"/>
<rect x="808" y="743" width="1" height="14" fill="#606060"/>
<rect x="882" y="743" width="1" height="14" fill="#606060"/>
<rect x="962" y="743" width="1" height="14" fill="#606060"/>
<rect x="1042" y="743" width="1" height="14" fill="#606060"/>
<rect x="1122" y="743" width="1" height="14" fill="#606060"/>
<rect x="1198" y="743" width="1" height="14" fill="#606060"/>
<rect x="1270" y="743" width="1" height="14" fill="#606060"/>
<rect x="1367" y="743" width="1" height="14" fill="#606060"/>
<rect x="1446" y="743" width="1" height="14" fill="#606060"/>
<rect x="1546" y="743" width="1" height="14" fill="#606060"/>
<path d="M1613 749l3.5 -3.5v7z" fill="#a0a0a0"/><path d="M1635.5 749l-3.5 -3.5v7z" fill="#000"/>
</svg>
</body></html>
